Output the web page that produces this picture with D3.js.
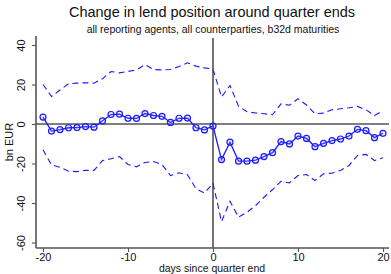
<!DOCTYPE html>
<html><head><meta charset="utf-8">
<script src="https://cdn.jsdelivr.net/npm/d3@7"></script>
<style>body{margin:0;background:#fff}svg{display:block}text{font-family:"Liberation Sans",Arial,sans-serif}</style>
</head><body><svg id="c" width="391" height="274"></svg>
<script>
const days = d3.range(-20, 21);
const center = [3.5,-3.6,-2.8,-1.9,-1.8,-1.3,-1.6,1.6,4.8,5.0,2.9,2.8,5.3,4.3,3.9,0.8,2.9,3.0,-1.9,-3.0,-1.0,
  -18.0,-9.2,-18.8,-18.8,-18.3,-16.5,-14.5,-8.9,-10.1,-6.1,-7.3,-11.5,-9.8,-8.4,-7.6,-6.1,-2.7,-3.4,-6.9,-4.7];
const upper = [20.0,13.9,17.2,20.4,20.7,20.9,20.7,22.9,26.6,25.9,26.6,27.4,30.1,27.6,27.4,27.6,29.1,31.0,29.3,28.4,27.8,
  13.7,19.5,9.0,6.2,5.6,5.2,4.7,10.2,9.5,12.8,9.6,5.2,5.5,7.2,7.7,8.2,8.9,7.2,4.3,6.8];
const lower = [-13.0,-20.7,-21.9,-23.9,-24.1,-23.5,-23.5,-18.5,-17.6,-16.5,-20.5,-21.7,-19.5,-19.0,-20.5,-26.1,-24.7,-25.7,-32.8,-35.0,-30.0,
  -49.4,-39.1,-47.2,-44.7,-41.3,-37.1,-33.3,-29.0,-29.8,-26.1,-25.6,-28.6,-25.2,-24.9,-23.5,-21.0,-15.9,-15.4,-18.5,-17.1];
const xTicks = [-20,-10,0,10,20];
const yTicks = [-60,-40,-20,0,20,40];
const title = "Change in lend position around quarter ends";
const subtitle = "all reporting agents, all counterparties, b32d maturities";
const xTitle = "days since quarter end";
const yTitle = "bn EUR";

const svg = d3.select("#c");
const x = d3.scaleLinear().domain([-20,20]).range([43,383]);
const y = d3.scaleLinear().domain([-60,40]).range([242.5,45]);
const L = 36, R = 389, T = 36, B = 248;
const blue = "#1a1aff";

svg.append("text").attr("x",212).attr("y",17).attr("text-anchor","middle").attr("font-size",14.5).attr("fill","#111").text(title);
svg.append("text").attr("x",213).attr("y",33).attr("text-anchor","middle").attr("font-size",10.5).attr("fill","#111").text(subtitle);

// reference lines
svg.append("line").attr("x1",L).attr("x2",R).attr("y1",y(0)).attr("y2",y(0)).attr("stroke","#000").attr("stroke-width",1.1);
svg.append("line").attr("x1",x(0)).attr("x2",x(0)).attr("y1",T+2).attr("y2",B).attr("stroke","#000").attr("stroke-width",1.1);

// axes
const yAx = svg.append("g").attr("transform",`translate(${L},0)`)
  .call(d3.axisLeft(y).tickValues(yTicks).tickFormat(d=>String(d)).tickSize(4));
yAx.select(".domain").attr("d",`M0,${T}V${B}`);
yAx.selectAll(".tick text").attr("transform","rotate(-90)").attr("x",0).attr("y",-11).attr("dy",0)
  .attr("text-anchor","middle").attr("font-size",11).attr("fill","#111");
const xAx = svg.append("g").attr("transform",`translate(0,${B})`)
  .call(d3.axisBottom(x).tickValues(xTicks).tickFormat(d=>String(d)).tickSize(4).tickPadding(1));
xAx.select(".domain").attr("d",`M${L},0H${R}`);
xAx.selectAll("text").attr("font-size",11).attr("fill","#111");
svg.selectAll(".domain").attr("stroke","#555").attr("stroke-width",1.6);
svg.selectAll(".tick line").attr("stroke","#555").attr("stroke-width",1.1);

svg.append("text").attr("x",212).attr("y",272).attr("text-anchor","middle").attr("font-size",10.5).attr("fill","#111").text(xTitle);
svg.append("text").attr("transform",`translate(13,142) rotate(-90)`).attr("text-anchor","middle").attr("font-size",11).attr("fill","#111").text(yTitle);

const line = arr => d3.line().x((d,i)=>x(days[i])).y(d=>y(d))(arr);
svg.append("path").attr("d",line(upper)).attr("fill","none").attr("stroke",blue).attr("stroke-width",1.1).attr("stroke-dasharray","6,4");
svg.append("path").attr("d",line(lower)).attr("fill","none").attr("stroke",blue).attr("stroke-width",1.1).attr("stroke-dasharray","6,4");
svg.append("path").attr("d",line(center)).attr("fill","none").attr("stroke",blue).attr("stroke-width",1.3);
svg.selectAll("circle.p").data(center).enter().append("circle")
  .attr("cx",(d,i)=>x(days[i])).attr("cy",d=>y(d)).attr("r",3)
  .attr("fill","rgba(160,160,255,0.2)").attr("stroke",blue).attr("stroke-width",1.2);
</script></body></html>
